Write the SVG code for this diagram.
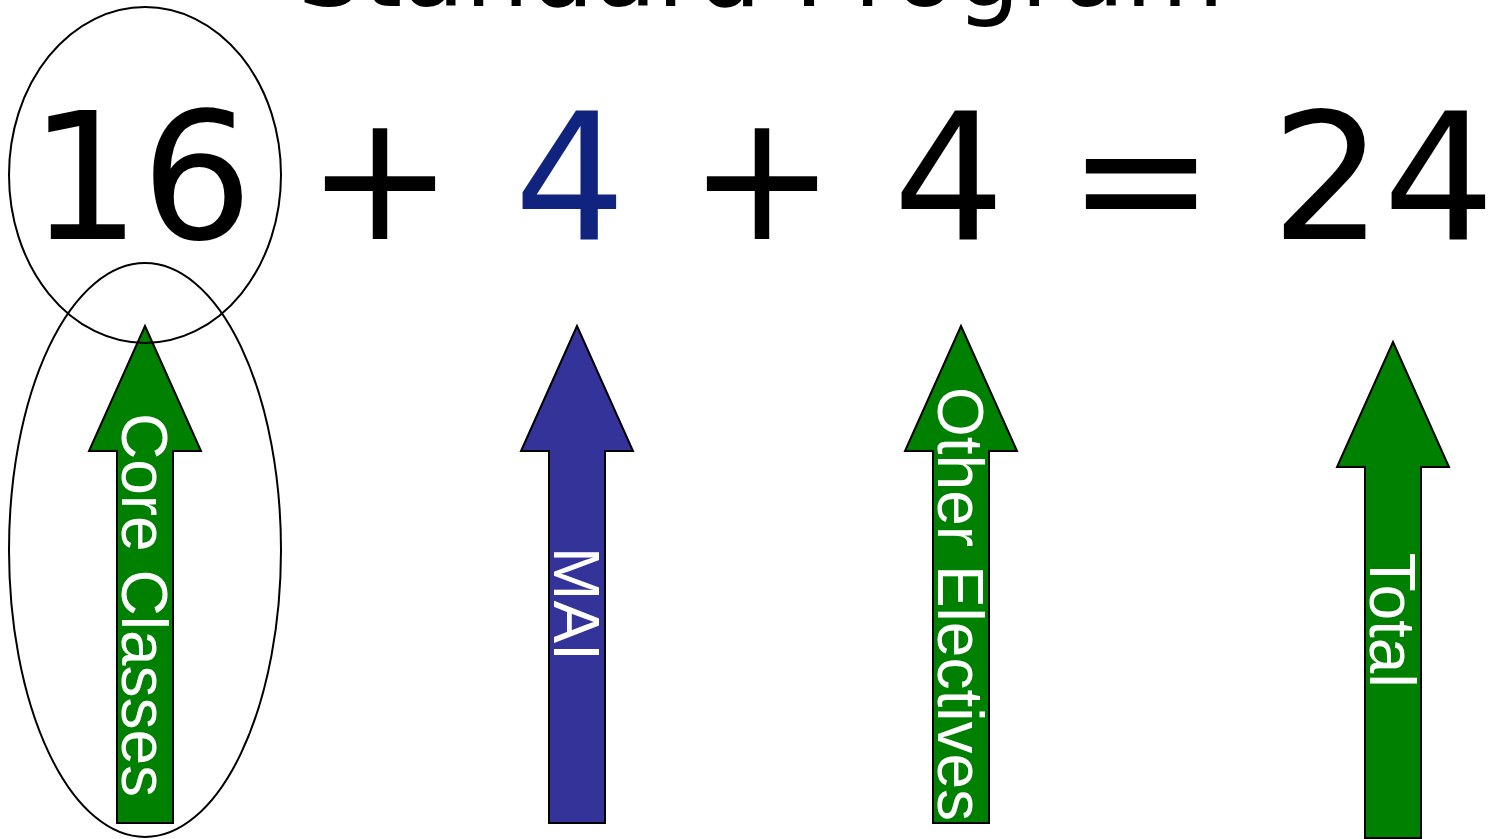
<svg xmlns="http://www.w3.org/2000/svg" width="1496" height="839" viewBox="0 0 1496 839">
<style>
.big{font-family:"DejaVu Sans",Verdana,sans-serif;font-size:176px;fill:#000;text-anchor:middle}
.title{font-family:"DejaVu Sans",Verdana,sans-serif;font-size:102px;fill:#000;text-anchor:middle}
.arr{stroke:#000;stroke-width:2;stroke-linejoin:miter}
.green{fill:#008000}
.blue{fill:#333399}
.lbl{font-family:"Liberation Sans",Arial,sans-serif;font-size:64px;fill:#fff;text-anchor:middle}
.ring{fill:none;stroke:#000;stroke-width:2}
</style>
<rect width="1496" height="839" fill="#fff"/>
<g id="title"><text class="title" x="761" y="6">Standard Program</text></g>
<g id="equation">
<text class="big" x="141" y="239">16</text>
<text class="big" x="380" y="239">+</text>
<text class="big" x="570" y="239" style="fill:#10237F">4</text>
<text class="big" x="762" y="239">+</text>
<text class="big" x="949" y="239">4</text>
<text class="big" x="1141" y="239">=</text>
<text class="big" x="1383" y="239">24</text>
</g>
<g id="connectors">
<g id="arrow-core">
<polygon class="arr green" points="145,326 201,451 173,451 173,823 117,823 117,451 89,451"/>
<text class="lbl" transform="translate(145,605) rotate(90)" x="0" y="23">Core Classes</text>
</g>
<g id="arrow-mai">
<polygon class="arr blue" points="577,326 633,451 605,451 605,823 549,823 549,451 521,451"/>
<text class="lbl" transform="translate(577,604) rotate(90)" x="0" y="23">MAI</text>
</g>
<g id="arrow-other">
<polygon class="arr green" points="961,326 1017,451 989,451 989,823 933,823 933,451 905,451"/>
<text class="lbl" transform="translate(961,604) rotate(90)" x="0" y="23">Other Electives</text>
</g>
<g id="arrow-total">
<polygon class="arr green" points="1393,342 1449,467 1421,467 1421,838 1365,838 1365,467 1337,467"/>
<text class="lbl" transform="translate(1393,620) rotate(90)" x="0" y="23">Total</text>
</g>
</g>
<g id="highlight">
<ellipse class="ring" cx="145" cy="175" rx="136" ry="168"/>
<ellipse class="ring" cx="145" cy="550" rx="136" ry="287"/>
</g>
</svg>
